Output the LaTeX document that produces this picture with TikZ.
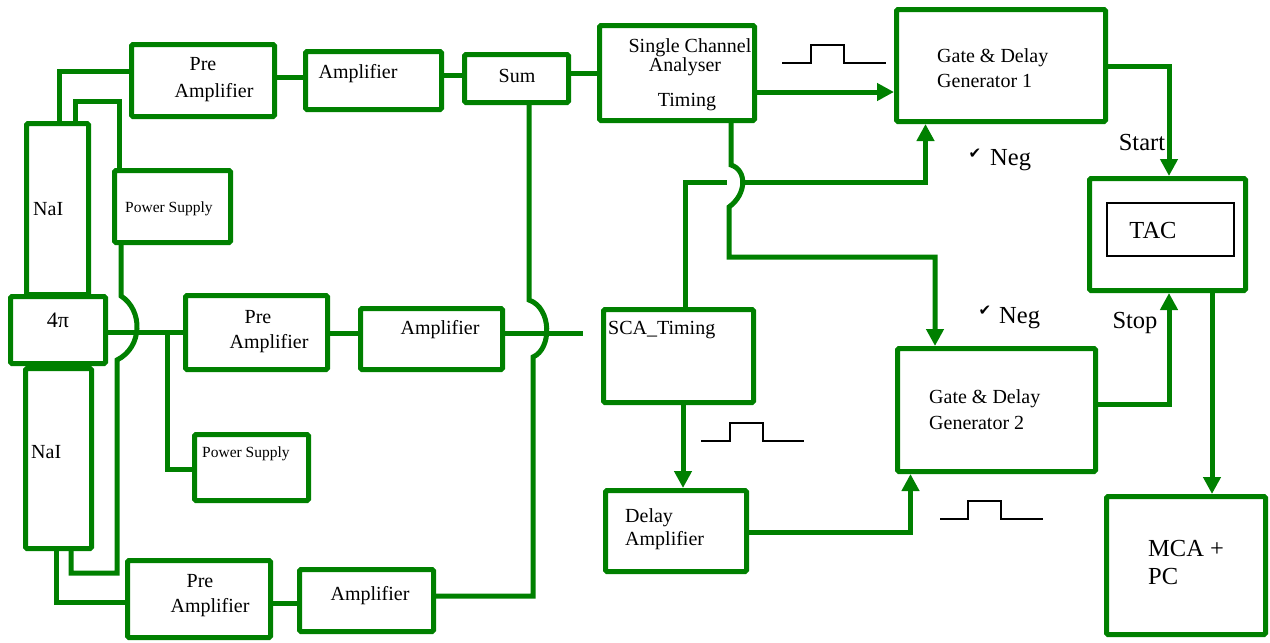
\documentclass[tikz,border=0pt]{standalone}
\usepackage{fontspec}
\setmainfont{Liberation Serif}
\newfontfamily\symfont{DejaVu Sans}
\usetikzlibrary{arrows.meta}
\definecolor{G}{RGB}{0,128,0}
\newcommand\mkbox[6][]{\node[box,#1,minimum width={(#4-#2-5)*1pt},minimum height={(#5-#3-5)*1pt}] (#6) at ({(#2+#4)/2},{(#3+#5)/2}) {};}
\begin{document}
\begin{tikzpicture}[x=1pt,y=-1pt,
 box/.style={draw=G,line width=5pt,rounded corners=1.5pt,inner sep=0pt},
 wire/.style={draw=G,line width=5pt},
 arr/.style={wire,-{Triangle[length=17pt,width=17pt]}},
 pulse/.style={draw=black,line width=1.5pt},
 t/.style={inner sep=0pt,yshift=-2.5pt,font=\fontsize{20}{22}\selectfont},
 tb/.style={inner sep=0pt,yshift=-2pt,font=\fontsize{24.5}{26}\selectfont},
 ts/.style={inner sep=0pt,yshift=-2pt,font=\fontsize{15.5}{17}\selectfont},
 ck/.style={inner sep=0pt,font=\symfont\fontsize{15}{15}\selectfont},
]
\useasboundingbox (0,0) rectangle (1270,643);
% boxes
\mkbox{129}{42}{277}{119}{preA}
\mkbox{303}{49}{444}{112}{ampA}
\mkbox{462}{52}{571}{105}{sum}
\mkbox{597}{23}{757}{123}{sca}
\mkbox{894}{7}{1108}{124}{gdg1}
\mkbox{1087}{176}{1248}{293}{tac}
\node[draw=black,line width=2pt,inner sep=0pt,minimum width=127pt,minimum height=53pt] (tacin) at (1170.5,229.5) {};
\mkbox{1104}{494}{1268}{637}{mca}
\mkbox{895}{346}{1098}{474}{gdg2}
\mkbox{601}{307}{756}{405}{scat}
\mkbox{603}{488}{749}{574}{delay}
\mkbox{24}{121}{91}{297}{naiT}
\mkbox{23}{366}{94}{551}{naiB}
\mkbox{8}{294}{108}{366}{fourpi}
\mkbox{112}{168}{233}{245}{psT}
\mkbox{183}{293}{330}{372}{preB}
\mkbox{358}{306}{505}{372}{ampB}
\mkbox{192}{432}{311}{503}{psB}
\mkbox{125}{558}{273}{640}{preC}
\mkbox{297}{567}{436}{634}{ampC}
% texts
\node[t] (tPreA1) at (203,62) {Pre};
\node[t] (tPreA2) at (214,90) {Amplifier};
\node[t] (tAmpA) at (358,71) {Amplifier};
\node[t] (tSum) at (517,73) {Sum};
\node[t] (tSca1) at (690,45) {Single Channel};
\node[t] (tSca2) at (685,64) {Analyser};
\node[t] (tSca3) at (687,100) {Timing};
\node[t,anchor=west] (tG1a) at (937,55) {Gate \& Delay};
\node[t,anchor=west] (tG1b) at (937,78) {Generator 1};
\node[tb] (tStart) at (1142,141) {Start};
\node[tb] (tTac) at (1153,229) {TAC};
\node[tb] (tStop) at (1135,321) {Stop};
\node[t,anchor=west] (tG2a) at (929,396) {Gate \& Delay};
\node[t,anchor=west] (tG2b) at (929,420) {Generator 2};
\node[tb,anchor=west] (tMca1) at (1148,547) {MCA +};
\node[tb,anchor=west] (tMca2) at (1148,575) {PC};
\node[t,anchor=west] (tScaT) at (608,328) {SCA\_Timing};
\node[t,anchor=west] (tDel1) at (625,515) {Delay};
\node[t,anchor=west] (tDel2) at (625,538) {Amplifier};
\node[t,anchor=west] (tNaiT) at (33,207) {NaI};
\node[t,font=\fontsize{22}{24}\selectfont] (t4pi) at (58,318) {4π};
\node[t,anchor=west] (tNaiB) at (31,450) {NaI};
\node[ts,anchor=west] (tPsT) at (125,207) {Power Supply};
\node[t] (tPreB1) at (258,315) {Pre};
\node[t] (tPreB2) at (269,341) {Amplifier};
\node[t] (tAmpB) at (440,327) {Amplifier};
\node[ts,anchor=west] (tPsB) at (202,452) {Power Supply};
\node[t] (tPreC1) at (200,579) {Pre};
\node[t] (tPreC2) at (210,605) {Amplifier};
\node[t] (tAmpC) at (370,593) {Amplifier};
\node[ck] (ck1) at (975,154) {✔};
\node[tb,anchor=west] (neg1) at (990,158) {Neg};
\node[ck] (ck2) at (985,311) {✔};
\node[tb,anchor=west] (neg2) at (999,316) {Neg};
% pulses
\draw[pulse] (782,63) -- (811,63) -- (811,45) -- (844,45) -- (844,63) -- (886,63);
\draw[pulse] (701,441) -- (730,441) -- (730,423) -- (763,423) -- (763,441) -- (804,441);
\draw[pulse] (940,519) -- (968,519) -- (968,501) -- (1001,501) -- (1001,519) -- (1043,519);
% wires left
\draw[wire] (59,0 |- naiT.north) |- (preA.west |- 0,71);
\draw[wire] (75,0 |- naiT.north) -- (75,101) -- (119,101) -- (119,0 |- psT.north);
\draw[wire] (121,0 |- psT.south) -- (121,296) .. controls (143,310) and (143,347) .. (117,360) -- (117,573) -- (71,573) -- (71,0 |- naiB.south);
\draw[wire] (fourpi.east |- 0,332) -- (preB.west |- 0,332);
\coordinate (j1) at (167,332);
\draw[wire] (j1) |- (psB.west |- 0,469);
\draw[wire] (56,0 |- naiB.south) |- (preC.west |- 0,602);
\draw[wire] (preC.east |- 0,603) -- (ampC.west |- 0,603);
\draw[wire] (ampC.east |- 0,596) -| (533,357) .. controls (552,349) and (552,308) .. (529,300) -- (529,0 |- sum.south);
\draw[wire] (preA.east |- 0,77) -- (ampA.west |- 0,77);
\draw[wire] (ampA.east |- 0,75) -- (sum.west |- 0,75);
\draw[wire] (sum.east |- 0,73) -- (sca.west |- 0,73);
\draw[wire] (preB.east |- 0,333) -- (ampB.west |- 0,333);
\coordinate (e1) at (583,333);
\draw[wire] (ampB.east |- 0,333) -- (e1);
% wires right
\draw[arr] (sca.east |- 0,92) -- (gdg1.west |- 0,92);
\draw[arr] (731,0 |- sca.south) -- (731,165) .. controls (747,170) and (747,194) .. (729,207) -- (729,257) -| (935,0 |- gdg2.north);
\coordinate (h1) at (727,182);
\coordinate (h2) at (743,182);
\draw[wire] (685,0 |- scat.north) |- (h1);
\draw[arr] (h2) -| (925.5,0 |- gdg1.south);
\draw[arr] (683,0 |- scat.south) -- (683,0 |- delay.north);
\draw[arr] (delay.east |- 0,532) -| (910.5,0 |- gdg2.south);
\draw[arr] (gdg1.east |- 0,66) -| (1169,0 |- tac.north);
\draw[arr] (gdg2.east |- 0,404) -| (1169,0 |- tac.south);
\draw[arr] (1212,0 |- tac.south) -- (1212,0 |- mca.north);
\end{tikzpicture}
\end{document}
